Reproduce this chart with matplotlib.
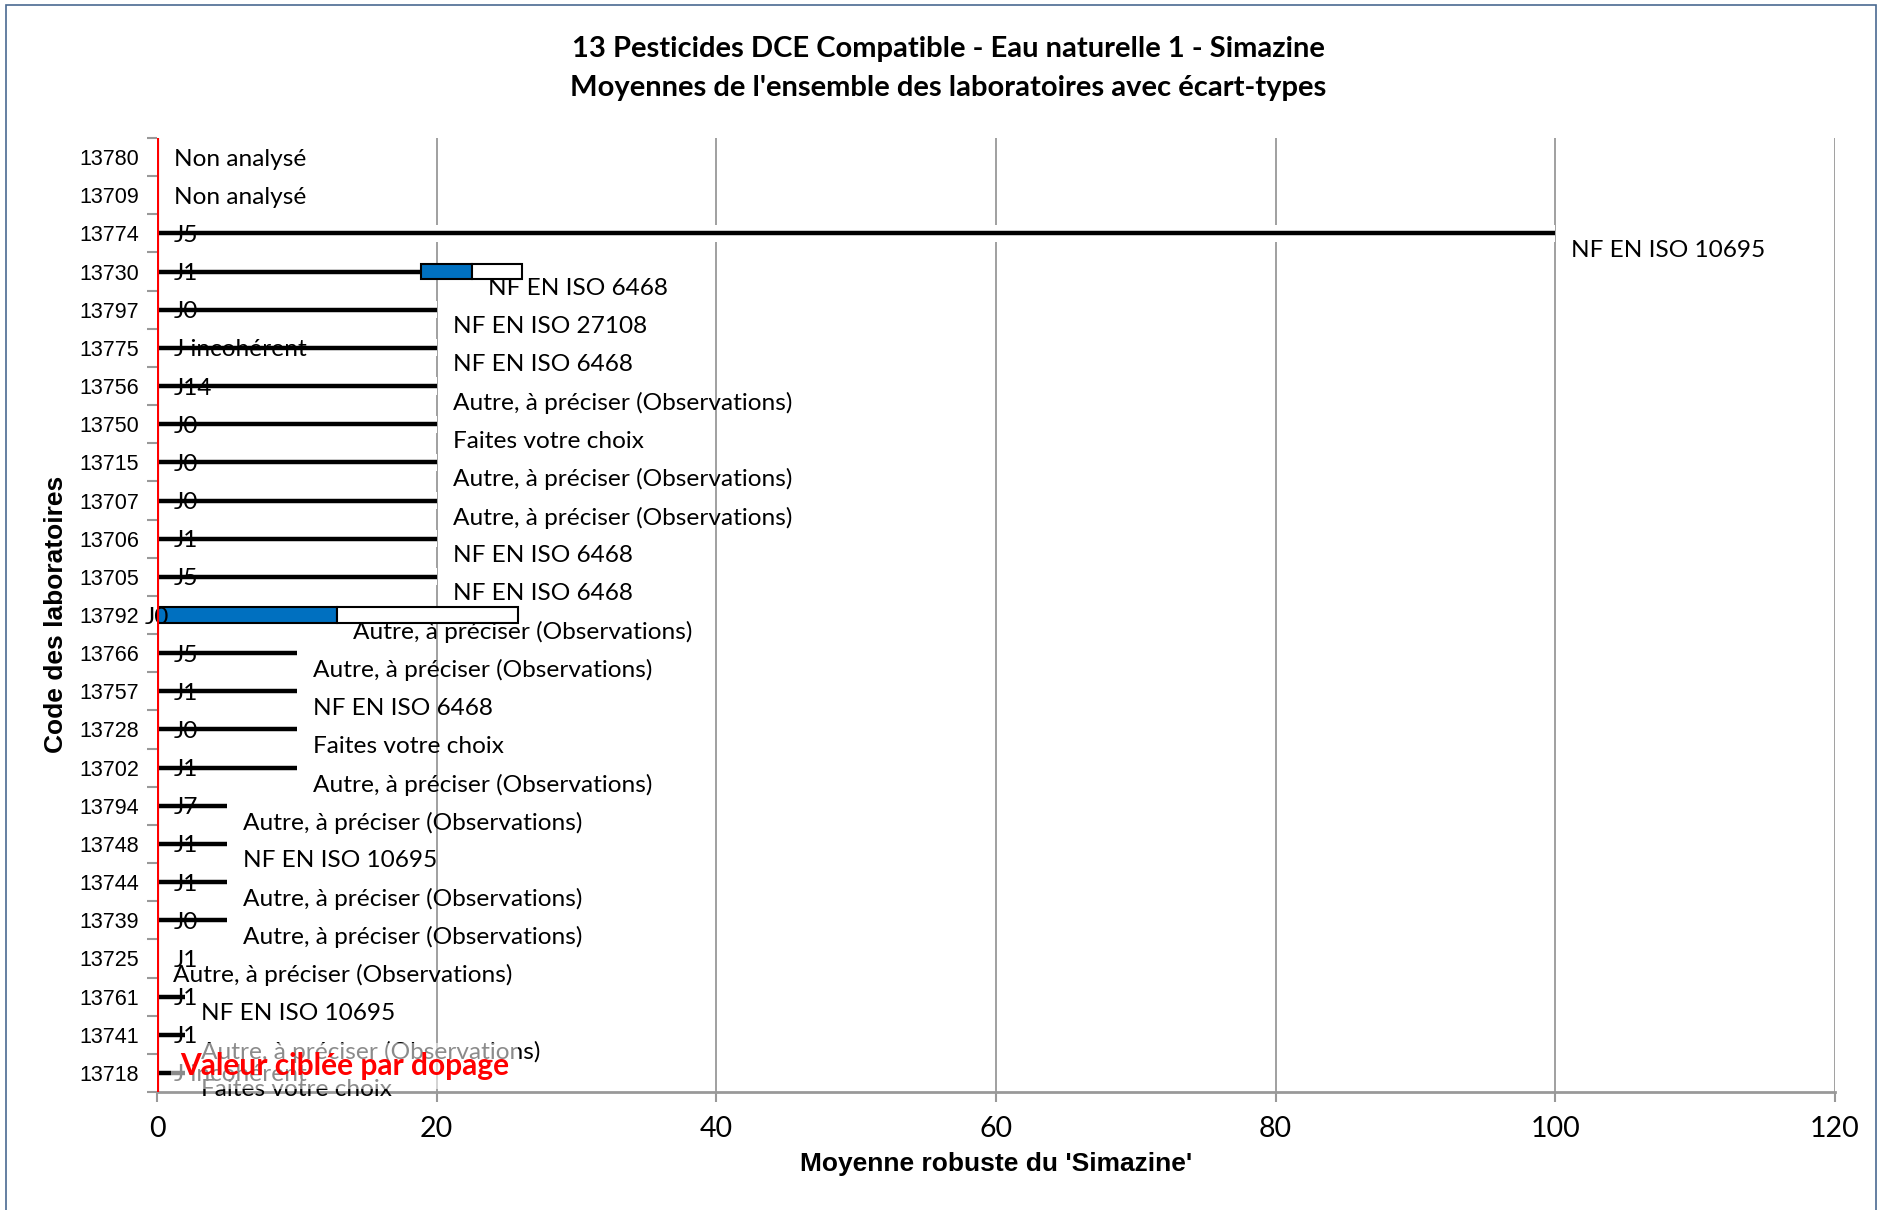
import numpy as np
import matplotlib
matplotlib.use("Agg")
import matplotlib.pyplot as plt
from matplotlib.patches import Rectangle

plt.rcParams['font.family'] = ['Lato', 'DejaVu Sans']

# Données
labos = ['13780', '13709', '13774', '13730', '13797', '13775', '13756', '13750',
         '13715', '13707', '13706', '13705', '13792', '13766', '13757', '13728',
         '13702', '13794', '13748', '13744', '13739', '13725', '13761', '13741', '13718']
moyennes = [np.nan, np.nan, 100, 22.5, 20, 20, 20, 20, 20, 20, 20, 20, 12.9,
            10, 10, 10, 10, 5, 5, 5, 5, 0, 2, 2, 2]
ecarts = [0, 0, 0, 3.6, 0, 0, 0, 0, 0, 0, 0, 0, 12.9,
          0, 0, 0, 0, 0, 0, 0, 0, 0, 0, 0, 0]
jours = ['', '', 'J5', 'J1', 'J0', 'J incohérent', 'J14', 'J0', 'J0', 'J0', 'J1', 'J5',
         'J0', 'J5', 'J1', 'J0', 'J1', 'J7', 'J1', 'J1', 'J0', 'J1', 'J1', 'J1', 'J incohérent']
A = 'Autre, à préciser (Observations)'
methodes = ['Non analysé', 'Non analysé', 'NF EN ISO 10695', 'NF EN ISO 6468',
            'NF EN ISO 27108', 'NF EN ISO 6468', A, 'Faites votre choix', A, A,
            'NF EN ISO 6468', 'NF EN ISO 6468', A, A, 'NF EN ISO 6468',
            'Faites votre choix', A, A, 'NF EN ISO 10695', A, A, A,
            'NF EN ISO 10695', A, 'Faites votre choix']
valeur_cible = 0

n = len(labos)
y = np.arange(n)
moy = np.array(moyennes, dtype=float)
sd = np.array(ecarts, dtype=float)
bas = moy - sd

fig = plt.figure(figsize=(18.81, 12.10), dpi=100)
ax = fig.add_axes([157 / 1881, 118 / 1210, (1835 - 157) / 1881, (1072 - 118) / 1210])

ax.set_xlim(0, 120)
ax.set_ylim(n - 0.5, -0.5)
ax.set_xticks(np.arange(0, 121, 20))
ax.set_axisbelow(True)
ax.grid(axis='x', color='#999999', lw=1.3)

ok = ~np.isnan(moy)
# fond blanc derrière les traits (masque la grille)
ax.barh(y[ok], bas[ok], height=0.45, left=0, color='white', zorder=1)
# trait noir 0 -> moyenne - écart-type
ax.hlines(y[ok], 0, bas[ok], color='black', lw=3.2, zorder=2)
# barres écart-type : bleu (bas) et blanc (haut)
avec_sd = ok & (sd > 0)
ax.barh(y[avec_sd], sd[avec_sd], left=bas[avec_sd], height=0.4,
        color='#0070C0', edgecolor='black', lw=1.5, zorder=3)
ax.barh(y[avec_sd], sd[avec_sd], left=moy[avec_sd], height=0.4,
        color='white', edgecolor='black', lw=1.5, zorder=3)

fs = 17.6
for i in range(n):
    if np.isnan(moy[i]):
        ax.annotate(methodes[i], (0, y[i]), xytext=(17, -2), textcoords='offset pixels',
                    ha='left', va='center', fontsize=fs, zorder=4)
        continue
    if sd[i] > 0 and bas[i] <= 0:
        ax.annotate(jours[i], (0, y[i]), xytext=(0, -2), textcoords='offset pixels',
                    ha='center', va='center', fontsize=fs, zorder=4)
    else:
        ax.annotate(jours[i], (0, y[i]), xytext=(17, -2), textcoords='offset pixels',
                    ha='left', va='center', fontsize=fs, zorder=4)
    ax.annotate(methodes[i], (moy[i], y[i]), xytext=(16, -17), textcoords='offset pixels',
                ha='left', va='center', fontsize=fs, zorder=4)

# valeur ciblée
ax.axvline(valeur_cible, color='red', lw=3, zorder=5)
ax.annotate('Valeur ciblée par dopage', (valeur_cible, y[-1]), xytext=(23, 7),
            textcoords='offset pixels', ha='left', va='center', fontsize=21.5,
            fontweight='bold', color='red', zorder=6,
            bbox=dict(boxstyle='square,pad=0.3', fc='white', ec='none', alpha=0.55))

# axes
ax.set_yticks(y)
ax.set_yticklabels(labos, fontfamily='Liberation Sans', fontsize=15.5)
ax.set_yticks(np.arange(n + 1) - 0.5, minor=True)
ax.tick_params(axis='y', which='major', length=0, pad=13)
ax.tick_params(axis='y', which='minor', length=7, color='#999999', width=1.5)
ax.tick_params(axis='x', length=7, color='#999999', width=1.5, pad=10, labelsize=20.5)
for s in ['top', 'right', 'left']:
    ax.spines[s].set_visible(False)
ax.spines['bottom'].set_color('#999999')
ax.spines['bottom'].set_linewidth(2)

fig.text(0.504, 1 - 49 / 1210, '13 Pesticides DCE Compatible - Eau naturelle 1 - Simazine',
         ha='center', va='center', fontsize=21, fontweight='bold')
fig.text(0.504, 1 - 88 / 1210, "Moyennes de l'ensemble des laboratoires avec écart-types",
         ha='center', va='center', fontsize=21, fontweight='bold')
fig.text(56 / 1881, 1 - 614 / 1210, 'Code des laboratoires', rotation=90,
         ha='center', va='center', fontsize=19, fontweight='bold', fontfamily='Liberation Sans')
fig.text(996 / 1881, 1 - 1164 / 1210, "Moyenne robuste du 'Simazine'",
         ha='center', va='center', fontsize=19, fontweight='bold', fontfamily='Liberation Sans')

# cadre du graphique
fig.patches.append(Rectangle((6 / 1881, -0.01), 1870 / 1881, 1 - 5 / 1210 + 0.01,
                             transform=fig.transFigure, fill=False, ec='#4a6a91', lw=1.2))

fig.savefig('out.png', dpi=100)
